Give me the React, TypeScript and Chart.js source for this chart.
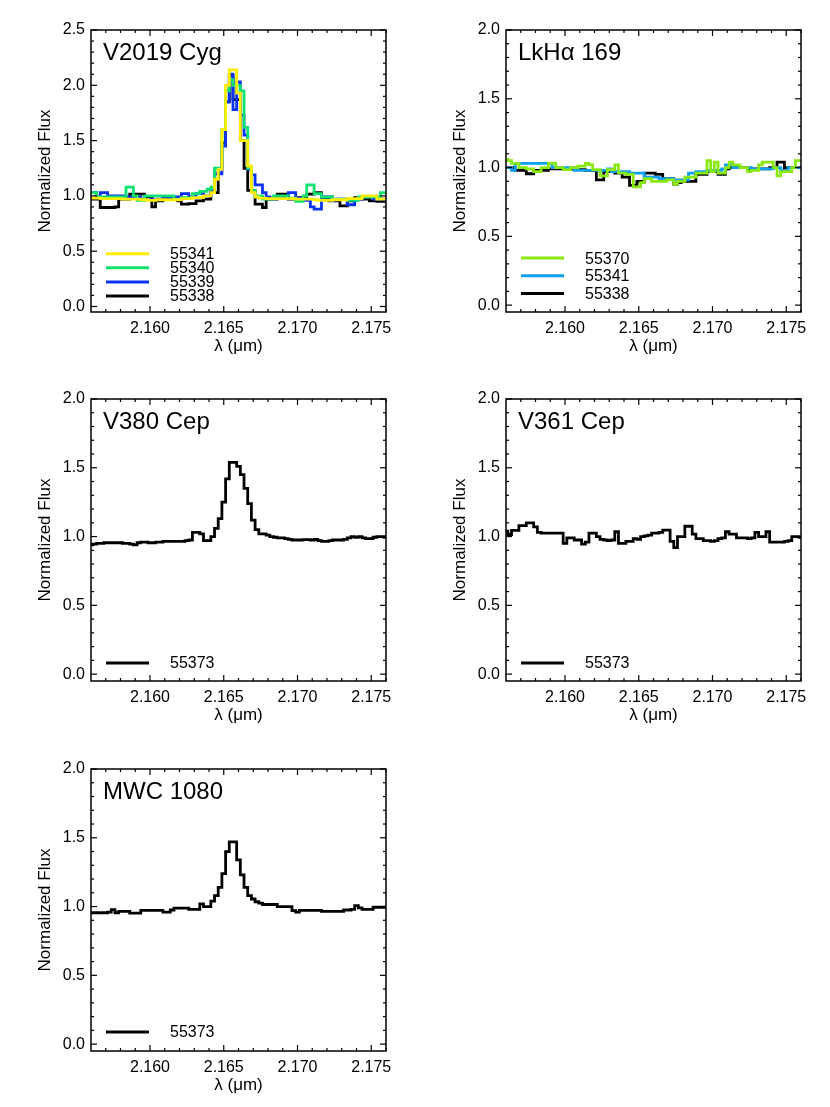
import React, { useEffect, useRef } from 'react';
import { Chart, registerables } from 'chart.js';
Chart.register(...registerables);

const FONT = '"Liberation Sans", Arial, Helvetica, sans-serif';

// wavelength grid (micron)
const WAVE = [
  2.15600, 2.15625, 2.15650, 2.15675, 2.15700, 2.15725, 2.15750, 2.15775, 2.15800, 2.15825,
  2.15850, 2.15875, 2.15900, 2.15925, 2.15950, 2.15975, 2.16000, 2.16025, 2.16050, 2.16075,
  2.16100, 2.16125, 2.16150, 2.16175, 2.16200, 2.16225, 2.16250, 2.16275, 2.16300, 2.16325,
  2.16350, 2.16375, 2.16400, 2.16425, 2.16450, 2.16475, 2.16500, 2.16525, 2.16550, 2.16575,
  2.16600, 2.16625, 2.16650, 2.16675, 2.16700, 2.16725, 2.16750, 2.16775, 2.16800, 2.16825,
  2.16850, 2.16875, 2.16900, 2.16925, 2.16950, 2.16975, 2.17000, 2.17025, 2.17050, 2.17075,
  2.17100, 2.17125, 2.17150, 2.17175, 2.17200, 2.17225, 2.17250, 2.17275, 2.17300, 2.17325,
  2.17350, 2.17375, 2.17400, 2.17425, 2.17450, 2.17475, 2.17500, 2.17525, 2.17550, 2.17575,
  2.17600,
];

const X_TICKS = [2.160, 2.165, 2.170, 2.175];
const X_MINOR = [2.157, 2.158, 2.159, 2.161, 2.162, 2.163, 2.164, 2.166, 2.167, 2.168, 2.169, 2.171, 2.172, 2.173, 2.174, 2.176];
const Y_TICKS_25 = [0.0, 0.5, 1.0, 1.5, 2.0, 2.5];
const Y_TICKS_20 = [0.0, 0.5, 1.0, 1.5, 2.0];
const Y_MINOR = [0.1, 0.2, 0.3, 0.4, 0.6, 0.7, 0.8, 0.9, 1.1, 1.2, 1.3, 1.4, 1.6, 1.7, 1.8, 1.9, 2.1, 2.2, 2.3, 2.4];

// V2019 Cyg
const V2019_55341 = [
  0.98, 0.98, 0.98, 0.975, 0.975, 0.975, 0.975, 0.975, 0.975, 0.97,
  0.97, 0.97, 0.97, 0.97, 0.965, 0.965, 0.96, 0.96, 0.965, 0.965,
  0.965, 0.965, 0.965, 0.965, 0.965, 0.975, 0.975, 0.975, 0.985, 0.985,
  0.985, 1.0, 1.0, 1.03, 1.15, 1.24, 1.6, 2.0, 2.14, 2.14,
  1.93, 1.5, 1.5, 1.27, 1.03, 0.99, 0.98, 0.98, 0.975, 0.975,
  0.975, 0.975, 0.975, 0.975, 0.975, 0.975, 0.97, 0.97, 0.97, 0.97,
  0.97, 0.965, 0.96, 0.96, 0.96, 0.96, 0.965, 0.965, 0.965, 0.965,
  0.975, 0.975, 0.975, 0.975, 1.0, 1.0, 1.0, 1.0, 0.97, 0.97,
  0.97,
];
const V2019_55340 = [
  1.03, 1.03, 0.99, 0.99, 0.99, 0.99, 0.99, 0.99, 0.99, 0.99,
  1.08, 1.08, 1.0, 0.96, 0.96, 1.0, 1.0, 1.0, 1.0, 1.0,
  1.0, 1.0, 1.0, 0.97, 0.97, 0.985, 0.985, 0.985, 1.02, 1.02,
  1.04, 1.04, 1.06, 1.08, 1.25, 1.25, 1.6, 1.95, 2.05, 2.0,
  2.0, 1.95, 1.62, 1.25, 1.05, 1.0, 1.0, 0.97, 0.97, 0.97,
  1.0, 1.0, 1.0, 1.0, 0.98, 0.98, 0.95, 0.95, 1.0, 1.1,
  1.1, 1.02, 1.02, 0.99, 0.99, 0.99, 0.97, 0.97, 0.97, 0.97,
  0.96, 0.96, 0.96, 0.99, 0.99, 0.99, 0.99, 0.99, 0.99, 1.03,
  1.03,
];
const V2019_55339 = [
  1.03, 1.03, 0.99, 1.03, 1.03, 1.0, 1.0, 1.0, 1.0, 1.0,
  0.99, 0.99, 0.99, 0.99, 0.97, 0.97, 0.97, 0.97, 0.97, 0.97,
  0.99, 0.99, 0.99, 0.99, 0.99, 1.02, 1.02, 0.99, 0.99, 1.02,
  1.02, 1.0, 1.0, 1.05, 1.2, 1.2, 1.45, 1.85, 2.1, 1.78,
  2.03, 1.73, 1.55, 1.24, 1.19, 1.1, 1.1, 1.03, 0.99, 0.98,
  0.98, 0.98, 0.98, 0.98, 1.03, 1.03, 0.98, 0.98, 0.96, 0.96,
  0.9, 0.88, 0.88, 0.99, 0.99, 0.99, 0.96, 0.97, 0.97, 0.97,
  0.92, 0.92, 0.97, 0.97, 0.99, 0.99, 0.99, 0.97, 0.97, 0.97,
  0.97,
];
const V2019_55338 = [
  0.97, 0.97, 0.97, 0.895, 0.895, 0.895, 0.895, 0.9, 0.97, 0.97,
  0.97, 1.015, 1.015, 1.015, 1.015, 0.985, 0.985, 0.9, 0.955, 0.955,
  0.985, 0.985, 0.985, 0.985, 0.955, 0.925, 0.925, 0.93, 0.93, 0.955,
  0.955, 0.97, 0.97, 1.03, 1.03, 1.24, 1.48, 1.85, 2.09, 1.87,
  1.87, 1.5, 1.25, 1.05, 1.05, 0.925, 0.925, 0.895, 0.97, 0.97,
  0.97, 1.015, 1.015, 1.015, 0.97, 0.97, 0.985, 0.985, 0.985, 1.015,
  1.015, 1.03, 1.03, 0.97, 0.97, 0.955, 0.955, 0.955, 0.91, 0.91,
  0.955, 0.955, 0.985, 0.985, 0.97, 0.97, 0.955, 0.955, 0.95, 0.95,
  0.95,
];

// LkHa 169
const LKHA_55370 = [
  1.06, 1.05, 1.03, 1.03, 1.0, 1.0, 0.99, 0.99, 0.97, 0.97,
  1.0, 1.0, 1.03, 1.03, 1.0, 1.0, 0.985, 0.985, 1.0, 1.0,
  1.01, 1.01, 1.03, 1.02, 0.985, 0.985, 0.94, 0.94, 0.985, 0.985,
  1.02, 0.96, 0.96, 0.95, 0.95, 0.86, 0.86, 0.89, 0.92, 0.92,
  0.9, 0.9, 0.9, 0.9, 0.91, 0.91, 0.88, 0.9, 0.9, 0.93,
  0.93, 0.93, 0.96, 0.96, 0.96, 1.05, 0.97, 1.04, 0.96, 0.96,
  1.0, 1.04, 1.02, 1.02, 1.0, 1.0, 0.97, 0.98, 0.98, 1.02,
  1.04, 1.04, 1.04, 1.0, 0.94, 0.97, 0.97, 0.97, 1.0, 1.05,
  1.05,
];
const LKHA_55341 = [
  1.0, 1.0, 0.98, 1.03, 1.03, 1.03, 1.03, 1.03, 1.03, 1.03,
  1.03, 1.03, 1.03, 1.0, 1.0, 1.0, 1.0, 1.0, 1.0, 0.98,
  0.98, 0.98, 0.98, 0.98, 0.98, 0.98, 0.98, 0.98, 0.99, 0.97,
  0.97, 0.97, 0.97, 0.97, 0.96, 0.96, 0.96, 0.96, 0.93, 0.93,
  0.93, 0.93, 0.92, 0.92, 0.92, 0.92, 0.91, 0.91, 0.91, 0.91,
  0.96, 0.96, 0.97, 0.97, 0.97, 0.98, 0.98, 0.98, 0.98, 0.99,
  1.02, 1.02, 1.0, 1.0, 1.0, 1.0, 1.0, 0.99, 0.99, 0.99,
  0.99, 0.99, 0.99, 1.0, 1.0, 0.98, 0.98, 1.0, 1.0, 1.0,
  1.0,
];
const LKHA_55338 = [
  1.0, 1.0, 1.0, 0.98, 0.98, 0.98, 0.955, 0.955, 0.98, 0.98,
  0.98, 0.98, 0.99, 0.99, 0.99, 0.99, 0.99, 0.99, 0.99, 0.985,
  0.985, 0.985, 0.98, 0.98, 0.98, 0.91, 0.91, 0.97, 0.97, 0.97,
  0.96, 0.96, 0.93, 0.93, 0.87, 0.87, 0.9, 0.9, 0.96, 0.96,
  0.96, 0.95, 0.95, 0.92, 0.92, 0.92, 0.88, 0.89, 0.9, 0.9,
  0.9, 0.9, 0.95, 0.95, 0.95, 0.97, 0.97, 0.97, 0.95, 0.95,
  0.99, 1.0, 1.0, 1.0, 1.0, 1.0, 0.99, 0.99, 0.99, 0.99,
  0.99, 0.99, 1.0, 1.0, 1.04, 1.04, 1.0, 1.0, 1.0, 1.0,
  1.0,
];

// V380 Cep
const V380_55373 = [
  0.94, 0.945, 0.95, 0.95, 0.955, 0.955, 0.955, 0.955, 0.955, 0.95,
  0.95, 0.945, 0.94, 0.955, 0.96, 0.96, 0.955, 0.955, 0.96, 0.96,
  0.965, 0.965, 0.965, 0.965, 0.965, 0.965, 0.97, 0.975, 1.03, 1.03,
  1.02, 0.97, 0.97, 1.0, 1.06, 1.13, 1.25, 1.42, 1.54, 1.54,
  1.51, 1.45, 1.35, 1.24, 1.12, 1.05, 1.02, 1.02, 1.01, 1.0,
  0.995, 0.99, 0.99, 0.985, 0.98, 0.975, 0.975, 0.975, 0.978, 0.978,
  0.975, 0.98, 0.97, 0.965, 0.965, 0.97, 0.975, 0.975, 0.975, 0.98,
  0.99, 1.0, 0.995, 1.0, 0.99, 0.985, 0.985, 0.995, 1.0, 1.0,
  0.995,
];

// V361 Cep
const V361_55373 = [
  1.04, 1.015, 1.045, 1.045, 1.08, 1.08, 1.1, 1.1, 1.07, 1.03,
  1.025, 1.025, 1.025, 1.025, 1.025, 1.025, 0.95, 0.99, 0.99, 0.975,
  0.975, 0.945, 0.96, 1.025, 1.025, 1.0, 0.98, 0.975, 0.97, 0.975,
  1.035, 0.95, 0.95, 0.965, 0.965, 0.985, 0.98, 1.0, 1.005, 1.01,
  1.025, 1.025, 1.03, 1.047, 1.047, 0.965, 0.92, 1.0, 1.0, 1.075,
  1.075, 1.017, 0.985, 0.985, 0.97, 0.97, 0.965, 0.97, 0.985, 0.99,
  1.035, 1.017, 1.017, 0.99, 0.99, 0.99, 0.985, 0.99, 1.03, 1.0,
  1.0, 1.035, 0.96, 0.96, 0.96, 0.96, 0.965, 0.97, 1.0, 1.0,
  0.995,
];

// MWC 1080
const MWC1080_55373 = [
  0.955, 0.955, 0.955, 0.955, 0.955, 0.96, 0.977, 0.955, 0.965, 0.965,
  0.965, 0.953, 0.953, 0.953, 0.972, 0.972, 0.972, 0.972, 0.972, 0.972,
  0.96, 0.96, 0.975, 0.988, 0.988, 0.988, 0.988, 0.98, 0.98, 0.98,
  1.02, 1.0, 1.0, 1.04, 1.08, 1.14, 1.24, 1.4, 1.47, 1.47,
  1.34, 1.23, 1.14, 1.08, 1.055, 1.035, 1.025, 1.015, 1.015, 1.015,
  1.015, 1.0, 1.0, 1.0, 1.0, 0.97, 0.96, 0.972, 0.972, 0.972,
  0.972, 0.972, 0.972, 0.965, 0.965, 0.965, 0.965, 0.965, 0.965, 0.975,
  0.975, 0.98, 1.007, 0.99, 0.98, 0.98, 0.98, 0.995, 0.995, 0.995,
  0.995,
];

type Series = { label: string; color: string; values: number[] };
type PanelCfg = {
  name: string;
  ymax: number;
  yticks: number[];
  left: number;
  top: number;
  legendBottom: number;
  legendGap: number;
  series: Series[];
};

const PANELS: PanelCfg[] = [
  {
    name: 'V2019 Cyg', ymax: 2.5, yticks: Y_TICKS_25, left: 0, top: 0, legendBottom: 16, legendGap: 14.1,
    series: [
      { label: '55341', color: '#ffee00', values: V2019_55341 },
      { label: '55340', color: '#10e070', values: V2019_55340 },
      { label: '55339', color: '#0a32f0', values: V2019_55339 },
      { label: '55338', color: '#000000', values: V2019_55338 },
    ],
  },
  {
    name: 'LkHα 169', ymax: 2.0, yticks: Y_TICKS_20, left: 415, top: 0, legendBottom: 18.5, legendGap: 17.7,
    series: [
      { label: '55370', color: '#88e810', values: LKHA_55370 },
      { label: '55341', color: '#10a0f0', values: LKHA_55341 },
      { label: '55338', color: '#000000', values: LKHA_55338 },
    ],
  },
  {
    name: 'V380 Cep', ymax: 2.0, yticks: Y_TICKS_20, left: 0, top: 369, legendBottom: 18, legendGap: 14,
    series: [{ label: '55373', color: '#000000', values: V380_55373 }],
  },
  {
    name: 'V361 Cep', ymax: 2.0, yticks: Y_TICKS_20, left: 415, top: 369, legendBottom: 18, legendGap: 14,
    series: [{ label: '55373', color: '#000000', values: V361_55373 }],
  },
  {
    name: 'MWC 1080', ymax: 2.0, yticks: Y_TICKS_20, left: 0, top: 739, legendBottom: 19, legendGap: 14,
    series: [{ label: '55373', color: '#000000', values: MWC1080_55373 }],
  },
];

function framePlugin(cfg: PanelCfg) {
  return {
    id: 'frame-' + cfg.name,
    afterDatasetsDraw(chart: any) {
      const { ctx, chartArea: a, scales } = chart;
      const x = scales.x;
      const y = scales.y;
      const line = (x1: number, y1: number, x2: number, y2: number) => {
        ctx.beginPath();
        ctx.moveTo(x1, y1);
        ctx.lineTo(x2, y2);
        ctx.stroke();
      };
      ctx.save();
      ctx.strokeStyle = '#000';
      ctx.lineWidth = 1.5;
      ctx.strokeRect(a.left, a.top, a.right - a.left, a.bottom - a.top);
      ctx.lineWidth = 1.2;
      X_TICKS.forEach((v) => {
        const px = x.getPixelForValue(v);
        line(px, a.bottom, px, a.bottom - 6);
        line(px, a.top, px, a.top + 6);
      });
      X_MINOR.forEach((v) => {
        const px = x.getPixelForValue(v);
        line(px, a.bottom, px, a.bottom - 3);
        line(px, a.top, px, a.top + 3);
      });
      cfg.yticks.forEach((v) => {
        const py = y.getPixelForValue(v);
        line(a.left, py, a.left + 6, py);
        line(a.right, py, a.right - 6, py);
      });
      Y_MINOR.filter((v) => v < cfg.ymax).forEach((v) => {
        const py = y.getPixelForValue(v);
        line(a.left, py, a.left + 3, py);
        line(a.right, py, a.right - 3, py);
      });
      // panel name
      ctx.fillStyle = '#000';
      ctx.font = `24px ${FONT}`;
      ctx.textBaseline = 'alphabetic';
      ctx.textAlign = 'left';
      ctx.fillText(cfg.name, a.left + 12, a.top + 30);
      // legend
      const n = cfg.series.length;
      cfg.series.forEach((s, k) => {
        const yy = a.bottom - cfg.legendBottom - (n - 1 - k) * cfg.legendGap;
        ctx.strokeStyle = s.color;
        ctx.lineWidth = 3;
        line(a.left + 15, yy, a.left + 58, yy);
        ctx.font = `16px ${FONT}`;
        ctx.textBaseline = 'middle';
        ctx.fillStyle = '#000';
        ctx.fillText(s.label, a.left + 79, yy + 1);
      });
      ctx.restore();
    },
  };
}

function Panel({ cfg }: { cfg: PanelCfg }) {
  const ref = useRef<HTMLCanvasElement>(null);
  useEffect(() => {
    const chart = new Chart(ref.current as HTMLCanvasElement, {
      type: 'line',
      data: {
        datasets: cfg.series.map((s) => ({
          label: s.label,
          data: WAVE.map((w, i) => ({ x: w, y: s.values[i] })),
          borderColor: s.color,
          backgroundColor: s.color,
          borderWidth: 2.8,
          pointRadius: 0,
          stepped: 'middle' as const,
          fill: false,
          tension: 0,
        })),
      },
      options: {
        animation: false,
        responsive: false,
        events: [],
        layout: { padding: { top: 30, right: 29, left: 0, bottom: 0 } },
        plugins: { legend: { display: false }, tooltip: { enabled: false } },
        scales: {
          x: {
            type: 'linear',
            min: 2.156,
            max: 2.176,
            afterFit: (s: any) => { s.height = 58; },
            afterBuildTicks: (s: any) => { s.ticks = X_TICKS.map((v) => ({ value: v })); },
            ticks: {
              callback: (v: any) => Number(v).toFixed(3),
              font: { family: FONT, size: 16 },
              color: '#000',
              padding: 7,
              maxRotation: 0,
              autoSkip: false,
            },
            grid: { display: false, drawTicks: false },
            border: { display: false },
            title: {
              display: true,
              text: 'λ (μm)',
              font: { family: FONT, size: 17 },
              color: '#000',
              padding: { top: 0, bottom: 13 },
            },
          },
          y: {
            type: 'linear',
            min: -0.05,
            max: cfg.ymax,
            afterFit: (s: any) => { s.width = 91; },
            afterBuildTicks: (s: any) => { s.ticks = cfg.yticks.map((v) => ({ value: v })); },
            ticks: {
              callback: (v: any) => Number(v).toFixed(1),
              font: { family: FONT, size: 16 },
              color: '#000',
              padding: 6,
              autoSkip: false,
            },
            grid: { display: false, drawTicks: false },
            border: { display: false },
            title: {
              display: true,
              text: 'Normalized Flux',
              font: { family: FONT, size: 17 },
              color: '#000',
              padding: { top: 35, bottom: 0 },
            },
          },
        },
      } as any,
      plugins: [framePlugin(cfg)],
    });
    return () => chart.destroy();
  }, [cfg]);
  return (
    <canvas
      ref={ref}
      width={415}
      height={370}
      style={{ position: 'absolute', left: cfg.left, top: cfg.top, width: 415, height: 370 }}
    />
  );
}

export default function App() {
  return (
    <div style={{ position: 'absolute', left: 0, top: 0, width: 830, height: 1107, background: '#fff' }}>
      {PANELS.map((p) => (
        <Panel key={p.name} cfg={p} />
      ))}
    </div>
  );
}
